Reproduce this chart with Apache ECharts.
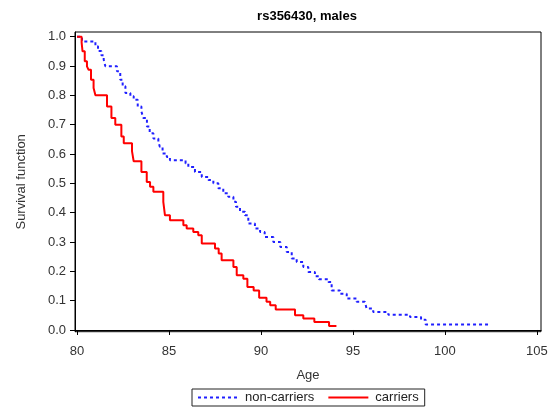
<!DOCTYPE html>
<html>
<head>
<meta charset="utf-8">
<script src="https://cdn.jsdelivr.net/npm/echarts@6/dist/echarts.min.js"></script>
<style>html,body{margin:0;padding:0;background:#fff}#c{width:552px;height:408px}</style>
</head>
<body>
<div id="c"></div>
<script>
// Kaplan-Meier steps: age at which survival drops, and the new survival value
const nonCarrierAge = [80, 80.27, 81.0, 81.14, 81.32, 81.45, 81.54, 82.17, 82.35, 82.48, 82.63, 82.9, 83.08, 83.3, 83.5, 83.6, 83.8, 83.95, 84.15, 84.42, 84.5, 84.65, 84.88, 85.05, 85.9, 86.05, 86.41, 86.78, 87.14, 87.41, 87.68, 87.95, 88.22, 88.5, 88.64, 88.86, 89.13, 89.31, 89.67, 89.95, 90.2, 90.67, 91.05, 91.4, 91.67, 91.94, 92.3, 92.57, 92.93, 93.15, 93.66, 93.84, 94.29, 94.66, 95.2, 95.65, 95.74, 96.1, 96.92, 98.1, 98.7, 98.95, 102.35];
const nonCarrierSurv = [1.0, 0.984, 0.967, 0.951, 0.937, 0.922, 0.899, 0.882, 0.853, 0.831, 0.808, 0.797, 0.785, 0.762, 0.745, 0.723, 0.694, 0.671, 0.653, 0.642, 0.625, 0.602, 0.590, 0.579, 0.568, 0.556, 0.539, 0.522, 0.511, 0.500, 0.483, 0.466, 0.454, 0.437, 0.420, 0.403, 0.391, 0.363, 0.346, 0.334, 0.317, 0.300, 0.283, 0.266, 0.244, 0.232, 0.215, 0.198, 0.183, 0.173, 0.164, 0.135, 0.124, 0.107, 0.096, 0.090, 0.073, 0.061, 0.052, 0.044, 0.035, 0.019, 0.019];
const carrierAge = [80, 80.25, 80.3, 80.42, 80.54, 80.63, 80.76, 80.9, 81.0, 81.63, 81.87, 82.08, 82.41, 82.54, 82.99, 83.08, 83.5, 83.79, 83.97, 84.15, 84.69, 84.78, 85.05, 85.78, 85.96, 86.32, 86.59, 86.78, 87.5, 87.7, 87.86, 88.5, 88.68, 89.04, 89.26, 89.6, 89.9, 90.3, 90.5, 90.8, 91.85, 92.3, 92.9, 93.7, 94.1];
const carrierSurv = [1.0, 0.98, 0.95, 0.916, 0.899, 0.887, 0.853, 0.825, 0.80, 0.762, 0.723, 0.70, 0.66, 0.637, 0.609, 0.575, 0.539, 0.505, 0.488, 0.471, 0.437, 0.391, 0.374, 0.357, 0.346, 0.334, 0.323, 0.295, 0.278, 0.261, 0.238, 0.215, 0.187, 0.175, 0.147, 0.135, 0.11, 0.096, 0.084, 0.07, 0.05, 0.039, 0.027, 0.014, 0.014];
const xTicks = [80, 85, 90, 95, 100, 105];
const yTicks = [0, 0.1, 0.2, 0.3, 0.4, 0.5, 0.6, 0.7, 0.8, 0.9, 1.0];
const titleText = 'rs356430, males';
const seriesNames = ['non-carriers', 'carriers'];

const FONT = '"Liberation Sans", Arial, sans-serif';
const chart = echarts.init(document.getElementById('c'), null, {renderer: 'canvas'});
const zip = (a, b) => a.map((v, i) => [v, b[i]]);

chart.setOption({
  animation: false,
  backgroundColor: '#fff',
  title: {
    text: titleText, left: 302, top: 5, textAlign: 'center',
    textStyle: {fontFamily: FONT, fontSize: 13, fontWeight: 'bold', color: '#000'}
  },
  grid: {left: 75, right: 11, top: 32, bottom: 76.3, show: true, borderColor: '#000', borderWidth: 1, backgroundColor: 'transparent'},
  xAxis: {
    type: 'value', min: 79.89, max: 105.22,
    name: 'Age', nameLocation: 'middle', nameGap: 37,
    nameTextStyle: {fontFamily: FONT, fontSize: 13, color: '#333'},
    axisLine: {show: true, lineStyle: {color: '#000', width: 1}},
    axisTick: {show: true, length: 5, customValues: xTicks, lineStyle: {color: '#000'}},
    axisLabel: {customValues: xTicks, margin: 13, fontFamily: FONT, fontSize: 13, color: '#333'},
    splitLine: {show: false}
  },
  yAxis: {
    type: 'value', min: -0.0058, max: 1.016,
    name: 'Survival function', nameLocation: 'middle', nameGap: 47, nameRotate: 90,
    nameTextStyle: {fontFamily: FONT, fontSize: 13, color: '#333'},
    axisLine: {show: true, lineStyle: {color: '#000', width: 1}},
    axisTick: {show: true, length: 5, customValues: yTicks, lineStyle: {color: '#000'}},
    axisLabel: {customValues: yTicks, margin: 9, fontFamily: FONT, fontSize: 13, color: '#333', formatter: v => v.toFixed(1)},
    splitLine: {show: false}
  },
  legend: {
    left: 192, top: 389,
    padding: [2, 6, 2, 5], itemGap: 13, itemWidth: 40, itemHeight: 10,
    borderColor: '#222', borderWidth: 1,
    itemStyle: {opacity: 0},
    textStyle: {fontFamily: FONT, fontSize: 13, color: '#222', padding: [0, 0, 0, 2]},
    data: seriesNames
  },
  series: [
    {
      name: seriesNames[0], type: 'line', step: 'end', symbol: 'none',
      data: zip(nonCarrierAge, nonCarrierSurv),
      lineStyle: {color: '#2020ff', width: 2, type: [3, 3]},
      itemStyle: {color: '#2020ff'}
    },
    {
      name: seriesNames[1], type: 'line', step: 'end', symbol: 'none',
      data: zip(carrierAge, carrierSurv),
      lineStyle: {color: '#ff0000', width: 2},
      itemStyle: {color: '#ff0000'}
    }
  ]
});
</script>
</body>
</html>
